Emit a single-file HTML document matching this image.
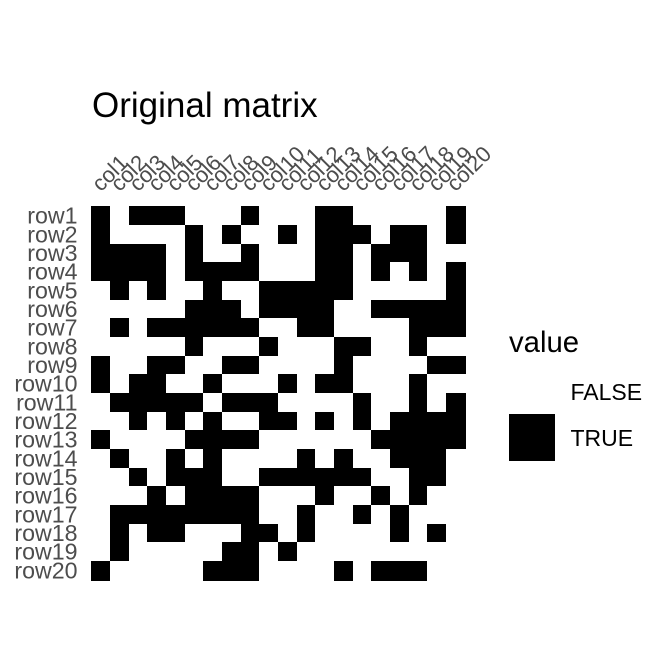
<!DOCTYPE html>
<html>
<head>
<meta charset="utf-8">
<title>Original matrix</title>
<style>
html,body{margin:0;padding:0;background:#fff;}
svg{display:block;font-family:"Liberation Sans",sans-serif;}
</style>
</head>
<body>
<svg id="chart" width="672" height="672" viewBox="0 0 672 672" xmlns="http://www.w3.org/2000/svg">
  <rect x="0" y="0" width="672" height="672" fill="#fff"/>
  <text x="92" y="117" font-size="35" fill="#000">Original matrix</text>
  <g id="cells"></g>
  <g id="row-labels"></g>
  <g id="col-labels"></g>
  <g>
    <text x="509" y="352" font-size="29.3" fill="#000">value</text>
    <rect x="509" y="368" width="46" height="46" fill="#fff"/>
    <rect x="509" y="414" width="46" height="47" fill="#000"/>
    <text x="570.5" y="400" font-size="23" fill="#000">FALSE</text>
    <text x="570.5" y="446" font-size="23" fill="#000">TRUE</text>
  </g>
</svg>
<script>
const rowNames = ["row1","row2","row3","row4","row5","row6","row7","row8","row9","row10","row11","row12","row13","row14","row15","row16","row17","row18","row19","row20"];
const colNames = ["col1","col2","col3","col4","col5","col6","col7","col8","col9","col10","col11","col12","col13","col14","col15","col16","col17","col18","col19","col20"];
const matrixValues = [
  [1,0,1,1,1,0,0,0,1,0,0,0,1,1,0,0,0,0,0,1],
  [1,0,0,0,0,1,0,1,0,0,1,0,1,1,1,0,1,1,0,1],
  [1,1,1,1,0,1,0,0,1,0,0,0,1,1,0,1,1,1,0,0],
  [1,1,1,1,0,1,1,1,1,0,0,0,1,1,0,1,0,1,0,1],
  [0,1,0,1,0,0,1,0,0,1,1,1,1,1,0,0,0,0,0,1],
  [0,0,0,0,0,1,1,1,0,1,1,1,1,0,0,1,1,1,1,1],
  [0,1,0,1,1,1,1,1,1,0,0,1,1,0,0,0,0,1,1,1],
  [0,0,0,0,0,1,0,0,0,1,0,0,0,1,1,0,0,1,0,0],
  [1,0,0,1,1,0,0,1,1,0,0,0,0,1,0,0,0,0,1,1],
  [1,0,1,1,0,0,1,0,0,0,1,0,1,1,0,0,0,1,0,0],
  [0,1,1,1,1,1,0,1,1,1,0,0,0,0,1,0,0,1,0,1],
  [0,0,1,0,1,0,1,0,0,1,1,0,1,0,1,0,1,1,1,1],
  [1,0,0,0,0,1,1,1,1,0,0,0,0,0,0,1,1,1,1,1],
  [0,1,0,0,1,0,1,0,0,0,0,1,0,1,0,0,1,1,1,0],
  [0,0,1,0,1,1,1,0,0,1,1,1,1,1,1,0,0,1,1,0],
  [0,0,0,1,0,1,1,1,1,0,0,0,1,0,0,1,0,1,0,0],
  [0,1,1,1,1,1,1,1,1,0,0,1,0,0,1,0,1,0,0,0],
  [0,1,0,1,1,0,0,0,1,1,0,1,0,0,0,0,1,0,1,0],
  [0,1,0,0,0,0,0,1,1,0,1,0,0,0,0,0,0,0,0,0],
  [1,0,0,0,0,0,1,1,1,0,0,0,0,1,0,1,1,1,0,0]
];

const SVG_NS = "http://www.w3.org/2000/svg";
const plotLeft = 91, plotTop = 206, plotSize = 375;
const band = 56 / 3;
function xScale(c) { return plotLeft + c * band; }
function yScale(r) { return plotTop + r * band; }
function xEdge(c) { return c >= colNames.length ? plotLeft + plotSize : Math.ceil(xScale(c) - 1e-6); }
function yEdge(r) { return r >= rowNames.length ? plotTop + plotSize : Math.ceil(yScale(r) - 1e-6); }

const cellsGroup = document.getElementById("cells");
const rowGroup = document.getElementById("row-labels");
const colGroup = document.getElementById("col-labels");

matrixValues.forEach(function (row, r) {
  row.forEach(function (v, c) {
    if (!v) return;
    const x0 = xEdge(c), x1 = xEdge(c + 1);
    const y0 = yEdge(r), y1 = yEdge(r + 1);
    const el = document.createElementNS(SVG_NS, "rect");
    el.setAttribute("x", x0);
    el.setAttribute("y", y0);
    el.setAttribute("width", x1 - x0);
    el.setAttribute("height", y1 - y0);
    el.setAttribute("fill", "#000");
    el.setAttribute("shape-rendering", "crispEdges");
    
    
    cellsGroup.appendChild(el);
  });
});

rowNames.forEach(function (name, r) {
  const el = document.createElementNS(SVG_NS, "text");
  el.setAttribute("x", 77.5);
  el.setAttribute("y", yScale(r) + band / 2 + 8.4);
  el.setAttribute("text-anchor", "end");
  el.setAttribute("font-size", "23.2");
  el.setAttribute("fill", "#4d4d4d");
  el.textContent = name;
  
  
  rowGroup.appendChild(el);
});

colNames.forEach(function (name, c) {
  const el = document.createElementNS(SVG_NS, "text");
  const ax = xScale(c) + band / 2 + 0.5;
  const ay = 192.5;
  el.setAttribute("x", ax);
  el.setAttribute("y", ay);
  el.setAttribute("transform", "rotate(-45 " + ax + " " + ay + ")");
  el.setAttribute("font-size", "22");
  el.setAttribute("fill", "#4d4d4d");
  el.textContent = name;
  
  
  colGroup.appendChild(el);
});
</script>
</body>
</html>
